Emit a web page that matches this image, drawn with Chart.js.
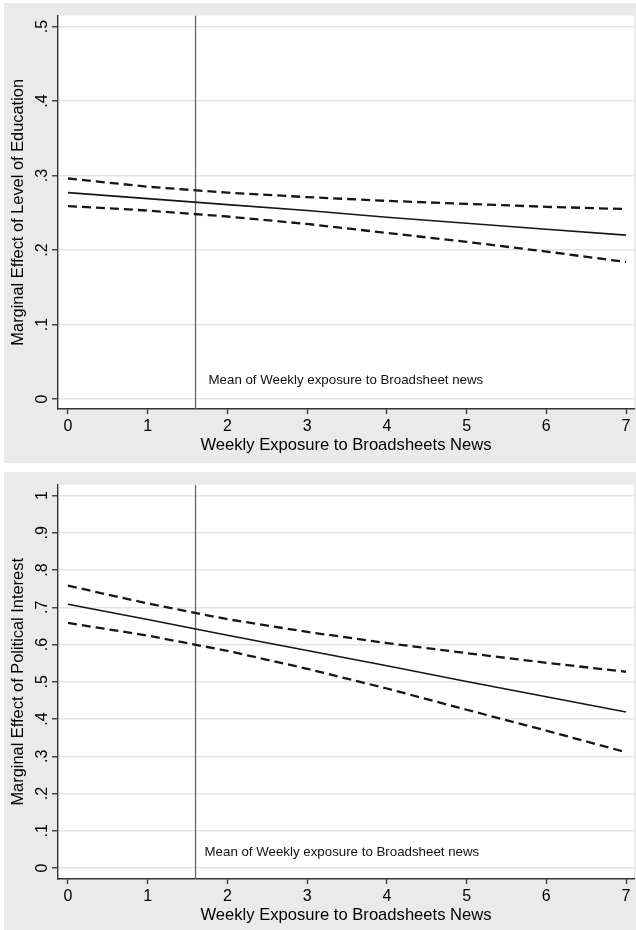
<!DOCTYPE html>
<html><head><meta charset="utf-8">
<script src="https://cdn.jsdelivr.net/npm/chart.js@4.4.1/dist/chart.umd.min.js"></script>
<style>
html,body{margin:0;padding:0;background:#fff;}
.panel{position:absolute;left:4px;width:632px;background:#eaeaea;}
#p1{top:3px;height:460px;}
#p2{top:472px;height:458px;}
canvas{display:block;}
</style></head><body>
<div class="panel" id="p1"><canvas id="c1" width="632" height="460"></canvas></div>
<div class="panel" id="p2"><canvas id="c2" width="632" height="458"></canvas></div>
<script>
// ---- data ----
const xValues = [0, 1, 2, 3, 4, 5, 6, 7];
const xTickLabels = ['0', '1', '2', '3', '4', '5', '6', '7'];
const meanExposure = 1.6;
const meanLabel = 'Mean of Weekly exposure to Broadsheet news';
const xTitle = 'Weekly Exposure to Broadsheets News';

const eduEffect = [0.277, 0.269, 0.261, 0.253, 0.244, 0.236, 0.228, 0.220];
const eduUpper  = [0.296, 0.285, 0.277, 0.271, 0.266, 0.262, 0.258, 0.255];
const eduLower  = [0.259, 0.253, 0.245, 0.235, 0.223, 0.211, 0.198, 0.184];
const eduYTicks = [0, 0.1, 0.2, 0.3, 0.4, 0.5];
const eduYTickLabels = ['0', '.1', '.2', '.3', '.4', '.5'];
const eduTitle = 'Marginal Effect of Level of Education';

const polEffect = [0.708, 0.667, 0.625, 0.584, 0.543, 0.501, 0.460, 0.419];
const polUpper  = [0.758, 0.710, 0.668, 0.634, 0.604, 0.577, 0.551, 0.527];
const polLower  = [0.658, 0.624, 0.583, 0.535, 0.482, 0.425, 0.369, 0.311];
const polYTicks = [0, 0.1, 0.2, 0.3, 0.4, 0.5, 0.6, 0.7, 0.8, 0.9, 1];
const polYTickLabels = ['0', '.1', '.2', '.3', '.4', '.5', '.6', '.7', '.8', '.9', '1'];
const polTitle = 'Marginal Effect of Political Interest';

// ---- helpers ----
const FONT = '"Liberation Sans", Arial, Helvetica, sans-serif';
const pts = (ys) => xValues.map((x, i) => ({x: x, y: ys[i]}));

const plotBg = {
  id: 'plotBg',
  beforeDraw(chart) {
    const {ctx, chartArea: a} = chart;
    ctx.save();
    ctx.fillStyle = '#ffffff';
    ctx.fillRect(a.left, a.top, a.right - a.left, a.bottom - a.top);
    ctx.restore();
  }
};
const annot = {
  id: 'annot',
  afterDatasetsDraw(chart, args, o) {
    const {ctx, scales: {x, y}} = chart;
    ctx.save();
    ctx.font = '13.3px ' + FONT;
    ctx.fillStyle = '#111';
    ctx.textBaseline = 'middle';
    ctx.textAlign = 'left';
    ctx.fillText(o.text, x.getPixelForValue(o.x) + o.dx, y.getPixelForValue(o.y));
    ctx.restore();
  }
};

function makeChart(id, cfg) {
  const ds = (data, dash, width) => ({
    data: data, showLine: true, pointRadius: 0, borderColor: '#161616',
    borderWidth: width, borderDash: dash, fill: false, tension: 0
  });
  return new Chart(document.getElementById(id), {
    type: 'scatter',
    data: {
      datasets: [
        ds(pts(cfg.upper), [9, 5], 2.3),
        ds(pts(cfg.lower), [9, 5], 2.3),
        ds(pts(cfg.effect), [], 1.6),
        {data: [{x: meanExposure, y: cfg.yMin}, {x: meanExposure, y: cfg.yMax}],
         showLine: true, pointRadius: 0, borderColor: '#666', borderWidth: 1.3}
      ]
    },
    options: {
      responsive: false,
      animation: false,
      layout: {padding: {top: 8, right: 2, left: 0, bottom: 0}},
      plugins: {
        legend: {display: false},
        tooltip: {enabled: false},
        annot: {text: meanLabel, x: meanExposure, y: cfg.annotY, dx: cfg.annotDx}
      },
      scales: {
        x: {
          type: 'linear', min: -0.125, max: 7.1,
          afterBuildTicks: (s) => { s.ticks = xValues.map(v => ({value: v})); },
          afterFit: (s) => { s.height = cfg.xHeight; },
          grid: {drawOnChartArea: false, drawTicks: true, tickLength: 5, tickColor: '#333', tickWidth: 1.3},
          border: {display: true, color: '#333', width: 1.4},
          ticks: {
            color: '#000', font: {family: FONT, size: 16}, padding: 3,
            maxRotation: 0, minRotation: 0,
            callback: (v) => { const i = xValues.indexOf(v); return i >= 0 ? xTickLabels[i] : ''; }
          },
          title: {display: true, text: xTitle, color: '#000', font: {family: FONT, size: 16.6},
                  padding: {top: 0, bottom: cfg.xTitlePad}}
        },
        y: {
          type: 'linear', min: cfg.yMin, max: cfg.yMax,
          afterBuildTicks: (s) => { s.ticks = cfg.yTicks.map(v => ({value: v})); },
          afterFit: (s) => { s.width = 54; },
          grid: {drawOnChartArea: true, color: '#e4e4e4', lineWidth: 1.5,
                 drawTicks: true, tickLength: 6, tickColor: '#333', tickWidth: 1.3},
          border: {display: true, color: '#333', width: 1.4},
          ticks: {
            color: '#000', font: {family: FONT, size: 16}, padding: 3,
            minRotation: 90, maxRotation: 90, crossAlign: 'center',
            callback: (v) => { const i = cfg.yTicks.findIndex(t => Math.abs(t - v) < 1e-9); return i >= 0 ? cfg.yTickLabels[i] : ''; }
          },
          title: {display: true, text: cfg.yTitle, color: '#000', font: {family: FONT, size: 16.4},
                  padding: {top: 5, bottom: 0}}
        }
      }
    },
    plugins: [plotBg, annot]
  });
}

makeChart('c1', {
  upper: eduUpper, lower: eduLower, effect: eduEffect,
  yTicks: eduYTicks, yTickLabels: eduYTickLabels, yTitle: eduTitle,
  yMin: -0.0133, yMax: 0.5146, xHeight: 54, xTitlePad: 8, annotY: 0.025, annotDx: 13
});
makeChart('c2', {
  upper: polUpper, lower: polLower, effect: polEffect,
  yTicks: polYTicks, yTickLabels: polYTickLabels, yTitle: polTitle,
  yMin: -0.0292, yMax: 1.0292, xHeight: 51, xTitlePad: 5, annotY: 0.042, annotDx: 9
});
</script>
</body></html>
